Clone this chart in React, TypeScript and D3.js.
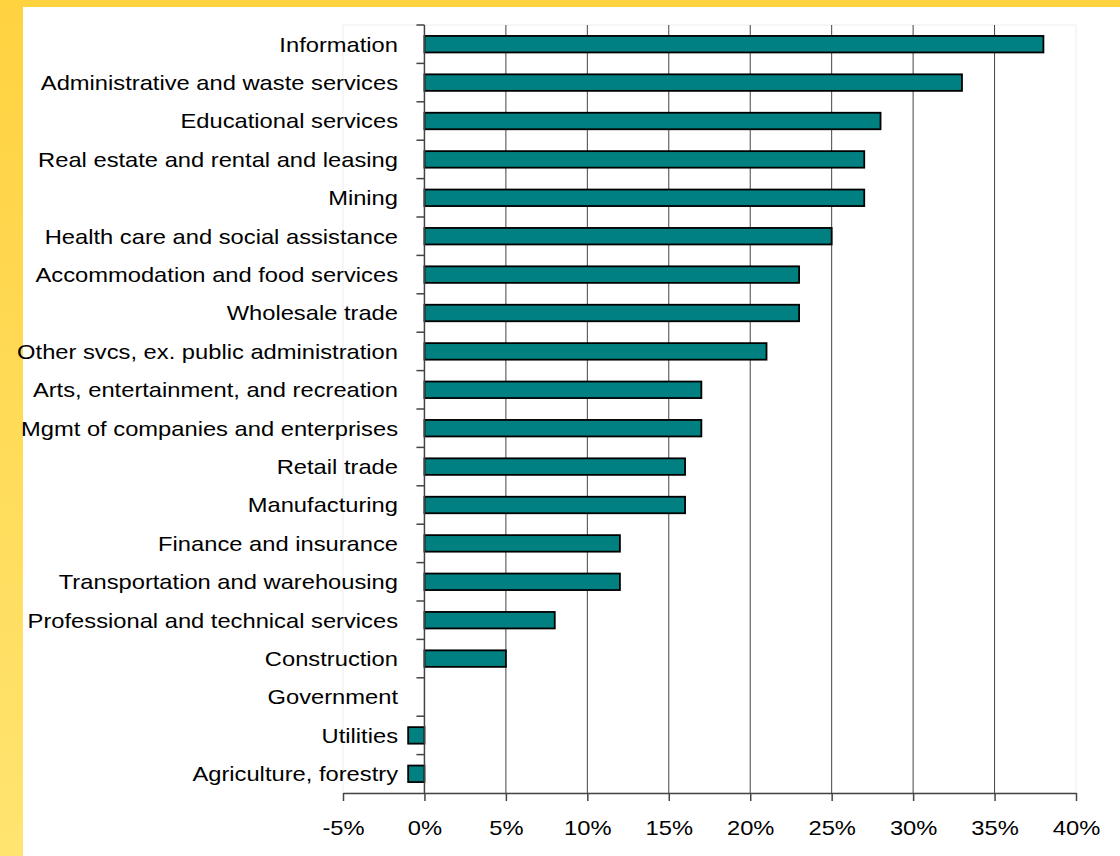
import React, { useEffect, useRef } from 'react';
import * as d3 from 'd3';

// industries, top to bottom
const categories = [
  'Information',
  'Administrative and waste services',
  'Educational services',
  'Real estate and rental and leasing',
  'Mining',
  'Health care and social assistance',
  'Accommodation and food services',
  'Wholesale trade',
  'Other svcs, ex. public administration',
  'Arts, entertainment, and recreation',
  'Mgmt of companies and enterprises',
  'Retail trade',
  'Manufacturing',
  'Finance and insurance',
  'Transportation and warehousing',
  'Professional and technical services',
  'Construction',
  'Government',
  'Utilities',
  'Agriculture, forestry',
];

// percent change
const values = [38, 33, 28, 27, 27, 25, 23, 23, 21, 17, 17, 16, 16, 12, 12, 8, 5, 0, -1, -1];

const xTicks = [-5, 0, 5, 10, 15, 20, 25, 30, 35, 40];

const W = 1120;
const H = 856;
const STRETCH = 1.13; // the original text is a bit wide

const App: React.FC = () => {
  const svgRef = useRef<SVGSVGElement>(null);

  useEffect(() => {
    document.body.style.margin = '0';
    if (!svgRef.current) return;
    const svg = d3.select(svgRef.current);
    svg.selectAll('*').remove();

    const font = 'Liberation Sans, Arial, sans-serif';

    // yellow frame
    const defs = svg.append('defs');
    const grad = defs.append('linearGradient')
      .attr('id', 'band')
      .attr('x1', 0).attr('y1', 0).attr('x2', 0).attr('y2', 1);
    grad.append('stop').attr('offset', '0%').attr('stop-color', '#ffd240');
    grad.append('stop').attr('offset', '100%').attr('stop-color', '#ffe470');

    svg.append('rect').attr('width', W).attr('height', H).attr('fill', 'url(#band)');
    svg.append('rect').attr('x', 0).attr('y', 0).attr('width', W).attr('height', 7).attr('fill', '#ffd240');
    svg.append('rect').attr('x', 23).attr('y', 7).attr('width', W - 23).attr('height', H - 7).attr('fill', '#ffffff');

    const x = d3.scaleLinear().domain([-5, 40]).range([343, 1076]);
    const y = d3.scaleBand<string>().domain(categories).range([25, 793]).paddingInner(0.57).paddingOuter(0.285);
    const step = y.step();

    // plot area border (faint)
    svg.append('rect')
      .attr('x', x(-5)).attr('y', 25)
      .attr('width', x(40) - x(-5)).attr('height', 793 - 25)
      .attr('fill', 'none').attr('stroke', '#eeeeee').attr('stroke-width', 1);

    // vertical gridlines
    svg.append('g')
      .selectAll('line')
      .data(xTicks.filter(t => t > 0 && t < 40))
      .enter()
      .append('line')
      .attr('x1', d => x(d)).attr('x2', d => x(d))
      .attr('y1', 25).attr('y2', 793)
      .attr('stroke', '#444').attr('stroke-width', 1);

    // bars
    svg.append('g')
      .selectAll('rect')
      .data(values)
      .enter()
      .append('rect')
      .attr('x', d => x(Math.min(0, d)))
      .attr('y', (d, i) => y(categories[i]) as number)
      .attr('width', d => Math.abs(x(d) - x(0)))
      .attr('height', y.bandwidth())
      .attr('fill', '#008080')
      .attr('stroke', d => (d === 0 ? 'none' : '#000'))
      .attr('stroke-width', 1.8);

    // category axis on zero line
    const zero = x(0);
    svg.append('line')
      .attr('x1', zero).attr('x2', zero)
      .attr('y1', 25).attr('y2', 793)
      .attr('stroke', '#444').attr('stroke-width', 1.5);
    svg.append('g')
      .selectAll('line')
      .data(d3.range(categories.length))
      .enter()
      .append('line')
      .attr('x1', zero - 8).attr('x2', zero)
      .attr('y1', i => 25 + i * step).attr('y2', i => 25 + i * step)
      .attr('stroke', '#444').attr('stroke-width', 1.5);

    svg.append('g')
      .selectAll('text')
      .data(categories)
      .enter()
      .append('text')
      .attr('transform', d => `translate(398,${(y(d) as number) + y.bandwidth() / 2}) scale(${STRETCH},1)`)
      .attr('dy', '0.35em')
      .attr('text-anchor', 'end')
      .attr('font-family', font)
      .attr('font-size', 21)
      .attr('fill', '#000')
      .text(d => d);

    // x axis
    const xAxis = svg.append('g')
      .attr('transform', 'translate(0,793)')
      .call(d3.axisBottom(x).tickValues(xTicks).tickSize(8).tickSizeOuter(0).tickFormat(d => `${d}%`));
    xAxis.select('.domain').attr('stroke', '#444').attr('stroke-width', 1.5);
    xAxis.selectAll('.tick line').attr('stroke', '#444').attr('stroke-width', 1.5);
    xAxis.selectAll('.tick text')
      .attr('y', 0)
      .attr('dy', 0)
      .attr('transform', `translate(0,42) scale(${STRETCH},1)`)
      .attr('font-family', font)
      .attr('font-size', 21)
      .attr('fill', '#000');
  }, []);

  return <svg ref={svgRef} width={W} height={H} style={{ display: 'block' }} />;
};

export default App;
